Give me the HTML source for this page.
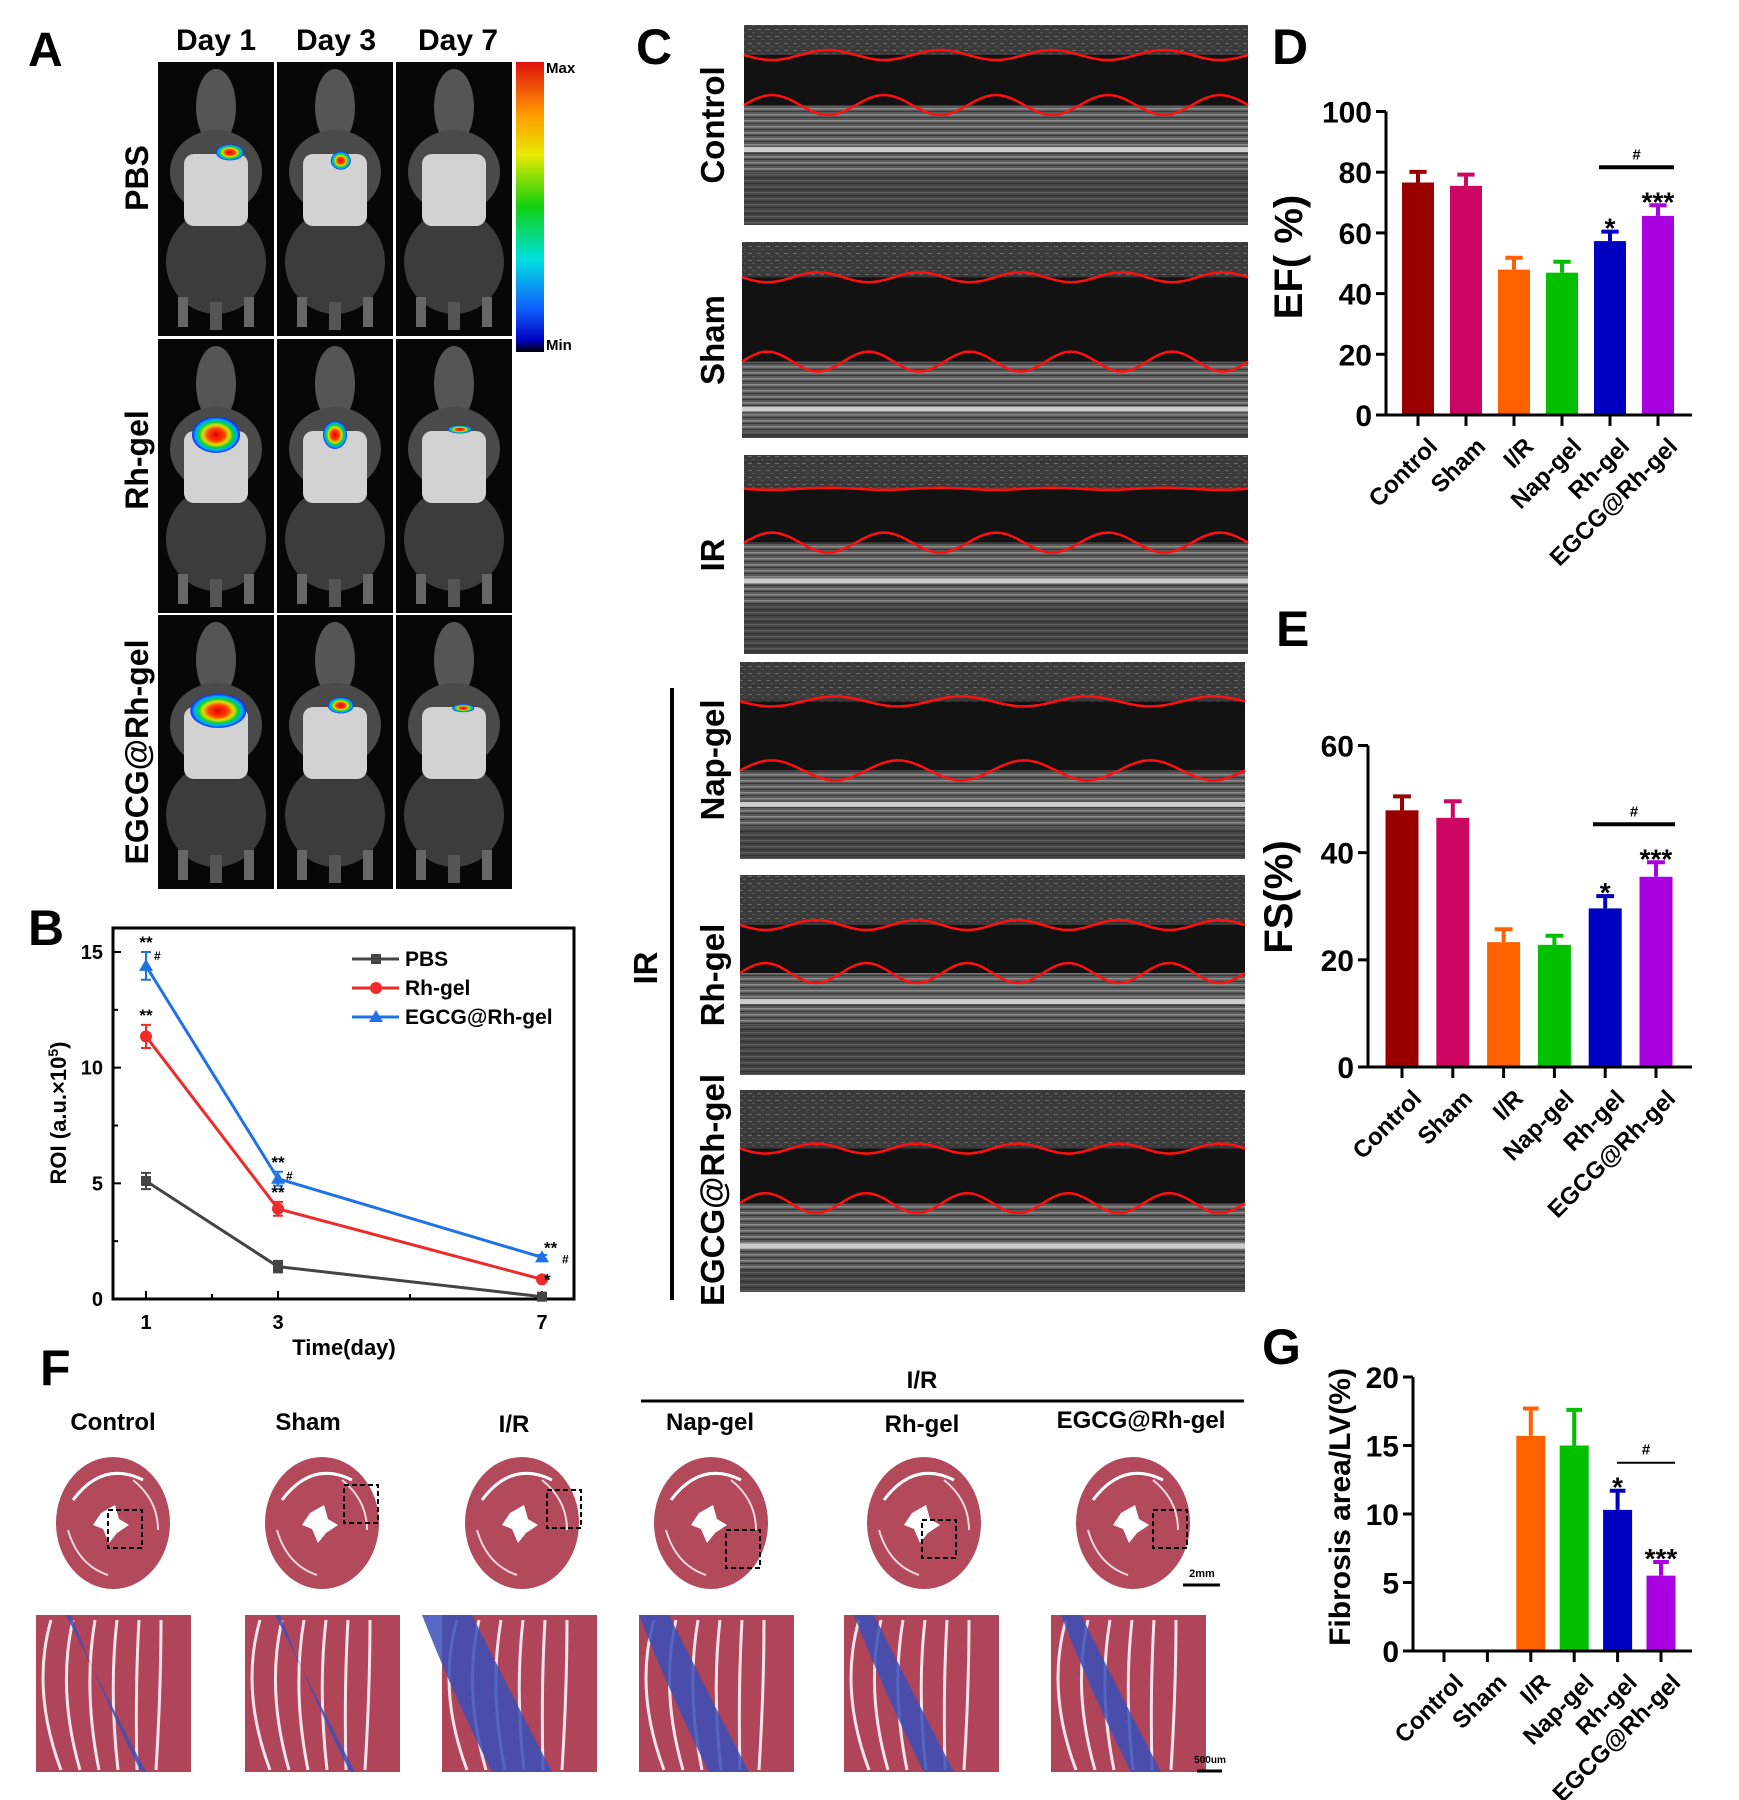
<!DOCTYPE html>
<html><head><meta charset="utf-8">
<style>
html,body{margin:0;padding:0;background:#fff;}
svg{display:block;font-family:"Liberation Sans",Arial,sans-serif;font-weight:bold;}
</style></head>
<body>
<svg id="fig" width="1739" height="1800" viewBox="0 0 1739 1800" xmlns="http://www.w3.org/2000/svg">
<defs>
  <linearGradient id="cbar" x1="0" y1="0" x2="0" y2="1">
    <stop offset="0" stop-color="#e01010"/><stop offset="0.18" stop-color="#ff9a00"/><stop offset="0.32" stop-color="#e8e800"/>
    <stop offset="0.5" stop-color="#10d010"/><stop offset="0.68" stop-color="#00e0e0"/><stop offset="0.85" stop-color="#1060ff"/>
    <stop offset="0.96" stop-color="#0000c0"/><stop offset="1" stop-color="#000"/>
  </linearGradient>
  <radialGradient id="blob">
    <stop offset="0" stop-color="#e00000"/><stop offset="0.35" stop-color="#ff4000"/><stop offset="0.55" stop-color="#e0e000"/>
    <stop offset="0.72" stop-color="#00d040"/><stop offset="0.85" stop-color="#00b0ff"/><stop offset="1" stop-color="#1020ff"/>
  </radialGradient>
  <pattern id="stripes" width="8" height="6" patternUnits="userSpaceOnUse">
    <rect width="8" height="6" fill="#5a5a5a"/>
    <rect y="0" width="8" height="1.5" fill="#8a8a8a"/>
    <rect y="3" width="8" height="1" fill="#3a3a3a"/>
  </pattern>
  <pattern id="noise" width="9" height="7" patternUnits="userSpaceOnUse">
    <rect width="9" height="7" fill="#3a3a3a"/>
    <rect x="1" y="1" width="4" height="1" fill="#6a6a6a"/>
    <rect x="5" y="4" width="3" height="1" fill="#555"/>
  </pattern>
  <g id="mouse">
    <rect x="0" y="0" width="116" height="274" fill="#070707"/>
    <ellipse cx="58" cy="45" rx="20" ry="38" fill="#555"/>
    <ellipse cx="58" cy="110" rx="46" ry="42" fill="#4a4a4a"/>
    <ellipse cx="58" cy="200" rx="50" ry="52" fill="#3c3c3c"/>
    <rect x="26" y="92" width="64" height="72" rx="10" fill="#d2d2d2"/>
    <rect x="20" y="235" width="10" height="30" fill="#666"/>
    <rect x="86" y="235" width="10" height="30" fill="#666"/>
    <rect x="52" y="240" width="12" height="28" fill="#555"/>
  </g>
</defs>

<!-- ===== Panel A ===== -->
<text x="28" y="66" font-size="48">A</text>
<g font-size="30" text-anchor="middle">
  <text x="216" y="50">Day 1</text>
  <text x="336" y="50">Day 3</text>
  <text x="458" y="50">Day 7</text>
</g>
<g font-size="32" text-anchor="middle">
  <text transform="translate(148,178) rotate(-90)">PBS</text>
  <text transform="translate(148,460) rotate(-90)">Rh-gel</text>
  <text transform="translate(148,752) rotate(-90)">EGCG@Rh-gel</text>
</g>
<g id="mice"></g>
<rect x="516" y="62" width="28" height="290" fill="url(#cbar)"/>
<text x="546" y="73" font-size="15">Max</text>
<text x="546" y="350" font-size="15">Min</text>

<!-- ===== Panel B ===== -->
<text x="28" y="945" font-size="50">B</text>
<g id="chartB"></g>

<!-- ===== Panel C ===== -->
<text x="636" y="64" font-size="50">C</text>
<g id="echo"></g>
<g font-size="33" text-anchor="middle">
  <text transform="translate(724,125) rotate(-90)">Control</text>
  <text transform="translate(724,340) rotate(-90)">Sham</text>
  <text transform="translate(724,555) rotate(-90)">IR</text>
  <text transform="translate(724,760) rotate(-90)">Nap-gel</text>
  <text transform="translate(724,975) rotate(-90)">Rh-gel</text>
  <text transform="translate(724,1190) rotate(-90)">EGCG@Rh-gel</text>
  <text transform="translate(657,968) rotate(-90)">IR</text>
</g>
<line x1="672" y1="688" x2="672" y2="1300" stroke="#000" stroke-width="4"/>

<!-- ===== Panels D, E, G ===== -->
<text x="1272" y="64" font-size="50">D</text>
<g id="chartD"></g>
<text x="1276" y="646" font-size="50">E</text>
<g id="chartE"></g>
<text x="1262" y="1364" font-size="50">G</text>
<g id="chartG"></g>

<!-- ===== Panel F ===== -->
<text x="40" y="1385" font-size="50">F</text>
<text x="922" y="1388" font-size="24" text-anchor="middle">I/R</text>
<line x1="641" y1="1401" x2="1244" y2="1401" stroke="#000" stroke-width="3"/>
<g font-size="24" text-anchor="middle">
  <text x="113" y="1430">Control</text>
  <text x="308" y="1430">Sham</text>
  <text x="514" y="1432">I/R</text>
  <text x="710" y="1430">Nap-gel</text>
  <text x="922" y="1432">Rh-gel</text>
  <text x="1141" y="1428">EGCG@Rh-gel</text>
</g>
<g id="histo"></g>
<text x="1202" y="1577" font-size="11" text-anchor="middle">2mm</text>
<line x1="1183" y1="1585" x2="1220" y2="1585" stroke="#000" stroke-width="3"/>
<text x="1210" y="1763" font-size="10" text-anchor="middle">500um</text>
<line x1="1197" y1="1771" x2="1222" y2="1771" stroke="#000" stroke-width="3"/>
</svg>

<script>
// ---------- Chart data ----------
// Panel B
const bDays = [1, 3, 7];
const bSeriesNames = ["PBS", "Rh-gel", "EGCG@Rh-gel"];
const bPBS = [5.1, 1.4, 0.1];
const bPBSErr = [0.35, 0.25, 0.08];
const bRh = [11.35, 3.9, 0.85];
const bRhErr = [0.5, 0.3, 0.08];
const bEGCG = [14.4, 5.2, 1.8];
const bEGCGErr = [0.6, 0.3, 0.1];
const bYTicks = [0, 5, 10, 15];
const bXTicks = [1, 3, 7];
const bRhMarks = ["**", "**", "*"];
const bEGCGMarks = ["**#", "**#", "**#"];

// Panels D, E, G
const groups = ["Control", "Sham", "I/R", "Nap-gel", "Rh-gel", "EGCG@Rh-gel"];
const efValues = [76.6, 75.5, 47.9, 46.9, 57.3, 65.6];
const efErrors = [3.5, 3.7, 3.9, 3.6, 3.1, 3.5];
const efTicks = [0, 20, 40, 60, 80, 100];
const fsValues = [47.9, 46.5, 23.3, 22.8, 29.6, 35.5];
const fsErrors = [2.6, 3.1, 2.4, 1.7, 2.3, 2.7];
const fsTicks = [0, 20, 40, 60];
const fibValues = [0, 0, 15.7, 15.0, 10.3, 5.5];
const fibErrors = [0, 0, 2.0, 2.6, 1.4, 1.0];
const fibTicks = [0, 5, 10, 15, 20];
const barColors = ["#9b0000", "#cc0663", "#ff6000", "#00c000", "#0000c0", "#a800e0"];

const NS = "http://www.w3.org/2000/svg";
function mk(tag, attrs, parent) {
  const e = document.createElementNS(NS, tag);
  for (const k in attrs) e.setAttribute(k, attrs[k]);
  if (parent) parent.appendChild(e);
  return e;
}

// ---------- Panel A mice ----------
(function () {
  const g = document.getElementById('mice');
  const cols = [158, 277, 396], rows = [62, 339, 615];
  const blobs = [
    [[0.62, 0.33, 14, 8], [0.55, 0.36, 10, 9], null],
    [[0.5, 0.35, 24, 18], [0.5, 0.35, 12, 14], [0.55, 0.33, 12, 4]],
    [[0.52, 0.35, 28, 17], [0.55, 0.33, 13, 8], [0.58, 0.34, 11, 4]]
  ];
  for (let r = 0; r < 3; r++) for (let c = 0; c < 3; c++) {
    const u = mk('use', { href: '#mouse', x: cols[c], y: rows[r] }, g);
    
    
    const b = blobs[r][c];
    if (b) {
      const e = mk('ellipse', { cx: cols[c] + b[0] * 116, cy: rows[r] + b[1] * 274, rx: b[2], ry: b[3], fill: 'url(#blob)' }, g);
      
      
    }
  }
})();

// ---------- Panel C echo images ----------
(function () {
  const g = document.getElementById('echo');
  const panels = [
    [744, 25, 504, 200, 0.15, 0.40, 0.62, 4.5],
    [742, 242, 506, 196, 0.18, 0.61, 0.85, 5],
    [744, 455, 504, 199, 0.17, 0.44, 0.63, 4.5],
    [740, 662, 505, 197, 0.20, 0.55, 0.72, 4],
    [740, 875, 505, 200, 0.25, 0.49, 0.63, 5],
    [740, 1090, 505, 202, 0.29, 0.56, 0.77, 5]
  ];
  panels.forEach((p, i) => {
    const [x, y, w, h, t, b, wl, cyc] = p;
    const r = mk('rect', { x, y, width: w, height: h, fill: 'url(#noise)' }, g);
    
    
    mk('rect', { x, y: y + h * t, width: w, height: h * (b - t), fill: '#121212' }, g);
    mk('rect', { x, y: y + h * b, width: w, height: h * (1 - b), fill: 'url(#stripes)' }, g);
    mk('rect', { x, y: y + h * wl - 2, width: w, height: 5, fill: '#d8d8d8', opacity: 0.9 }, g);
    mk('rect', { x, y: y + h * (wl + 0.12), width: w, height: h * (0.88 - wl) > 0 ? h * (0.88 - wl) : 4, fill: '#2a2a2a', opacity: 0.5 }, g);
    let d1 = '', d2 = '';
    const amp1 = i === 2 ? 1 : 5, amp2 = 10;
    for (let s = 0; s <= 100; s++) {
      const xx = x + w * s / 100;
      const ph = 2 * Math.PI * cyc * s / 100;
      d1 += (s ? 'L' : 'M') + xx.toFixed(1) + ',' + (y + h * t + amp1 * Math.sin(ph)).toFixed(1);
      d2 += (s ? 'L' : 'M') + xx.toFixed(1) + ',' + (y + h * b - amp2 * Math.sin(ph)).toFixed(1);
    }
    const l1 = mk('path', { d: d1, fill: 'none', stroke: '#ff1010', 'stroke-width': 2.5 }, g);
    
    
    const l2 = mk('path', { d: d2, fill: 'none', stroke: '#ff1010', 'stroke-width': 2.5 }, g);
    
    
  });
})();

// ---------- Panel F histology ----------
(function () {
  const g = document.getElementById('histo');
  const hx = [113, 322, 522, 711, 924, 1133];
  const cx = [36, 245, 442, 639, 844, 1051];
  const blue = [0.05, 0.05, 0.6, 0.4, 0.3, 0.3];
  const boxes = [[-5, 0], [22, -25], [25, -20], [15, 20], [-2, 10], [20, 0]];
  hx.forEach((x, i) => {
    const e = mk('ellipse', { cx: x, cy: 1523, rx: 57, ry: 66, fill: '#b34a5c' }, g);
    
    
    mk('path', { d: `M${x - 12},${1513} l14,-8 l4,14 l10,6 l-12,8 l-8,10 l-6,-14 l-10,-4 z`, fill: '#fff' }, g);
    mk('path', { d: `M${x - 40},${1500} q30,-40 70,-20`, fill: 'none', stroke: '#fff', 'stroke-width': 3 }, g);
    mk('path', { d: `M${x - 45},${1530} q10,35 40,45`, fill: 'none', stroke: '#f0d8dd', 'stroke-width': 2 }, g);
    mk('path', { d: `M${x + 20},${1480} q25,20 25,50`, fill: 'none', stroke: '#f0d8dd', 'stroke-width': 2 }, g);
    const bx = mk('rect', { x: x + boxes[i][0], y: 1510 + boxes[i][1], width: 34, height: 38, fill: 'none', stroke: '#000', 'stroke-width': 2, 'stroke-dasharray': '5,3' }, g);
    
    
    const c = mk('rect', { x: cx[i], y: 1615, width: 155, height: 157, fill: '#b04458' }, g);
    
    
    for (let k = 0; k < 6; k++) mk('path', { d: `M${cx[i] + 15 + k * 22},1620 q${-20 + k * 4},70 ${10 - k * 3},150`, fill: 'none', stroke: '#f2e6ea', 'stroke-width': 3 }, g);
    mk('path', { d: `M${cx[i] + 30},1615 q40,80 80,157 l${-100 * blue[i]},0 q-40,-80 -70,-157 z`, fill: '#3a4fb8', opacity: 0.85 }, g);
  });
})();

// ---------- Bar chart ----------
function barChart(id, cfg, values, errors, ticks) {
  const g = document.getElementById(id);
  const ymax = ticks[ticks.length - 1];
  const ys = v => cfg.y0 - (v / ymax) * (cfg.y0 - cfg.yTop);
  const xs = i => cfg.x1 + cfg.step * i;
  values.forEach((v, i) => {
    if (v <= 0) return;
    const r = mk('rect', { x: xs(i) - cfg.bw / 2, y: ys(v), width: cfg.bw, height: cfg.y0 - ys(v), fill: barColors[i] }, g);
    
    
    const e = mk('path', { d: `M${xs(i)},${ys(v)}V${ys(v + errors[i])}M${xs(i) - cfg.bw * 0.27},${ys(v + errors[i])}H${xs(i) + cfg.bw * 0.27}`, stroke: barColors[i], 'stroke-width': 4, fill: 'none' }, g);
    
    
  });
  const ax = mk('path', { d: `M${cfg.ax},${ys(ymax)}V${cfg.y0}H${cfg.xEnd}`, stroke: '#000', 'stroke-width': 3, fill: 'none' }, g);
  
  
  ticks.forEach(t => {
    mk('line', { x1: cfg.ax - 10, x2: cfg.ax, y1: ys(t), y2: ys(t), stroke: '#000', 'stroke-width': 3 }, g);
    const tl = mk('text', { x: cfg.ax - 14, y: ys(t) + 11, 'font-size': cfg.tf, 'text-anchor': 'end' }, g);
    tl.textContent = t;
    
    
  });
  groups.forEach((name, i) => {
    mk('line', { x1: xs(i), x2: xs(i), y1: cfg.y0, y2: cfg.y0 + 11, stroke: '#000', 'stroke-width': 3 }, g);
    const tl = mk('text', { 'font-size': 24, 'text-anchor': 'end', 'dominant-baseline': 'hanging', transform: `translate(${xs(i) + 9},${cfg.y0 + 21}) rotate(-45)` }, g);
    tl.textContent = name;
    
    
  });
  const yt = mk('text', { 'font-size': cfg.lf, 'text-anchor': 'middle', transform: `translate(${cfg.lx},${cfg.ly}) rotate(-90)` }, g);
  yt.textContent = cfg.label;
  
  
  // significance
  const rhTop = ys(values[4] + errors[4]), egTop = ys(values[5] + errors[5]);
  const s1 = mk('text', { x: xs(4), y: rhTop + 6, 'font-size': 28, 'text-anchor': 'middle' }, g);
  s1.textContent = '*';
  
  
  const s2 = mk('text', { x: xs(5), y: egTop + 6, 'font-size': 28, 'text-anchor': 'middle' }, g);
  s2.textContent = '***';
  
  
  const ly = Math.min(rhTop, egTop) - cfg.lineGap;
  const sl = mk('line', { x1: cfg.lineX1, x2: cfg.lineX2, y1: ly, y2: ly, stroke: '#000', 'stroke-width': cfg.lineW }, g);
  
  
  const h = mk('text', { x: (cfg.lineX1 + cfg.lineX2) / 2, y: ly - 8, 'font-size': 15, 'text-anchor': 'middle' }, g);
  h.textContent = '#';
  
  
}
barChart('chartD', { ax: 1386, y0: 415, yTop: 111.5, x1: 1418, step: 48, bw: 32, xEnd: 1692, tf: 30, lf: 40, lx: 1302, ly: 257, label: 'EF( %)', lineX1: 1599, lineX2: 1674, lineGap: 38, lineW: 4 }, efValues, efErrors, efTicks);
barChart('chartE', { ax: 1368, y0: 1067, yTop: 745.5, x1: 1402, step: 50.8, bw: 33, xEnd: 1692, tf: 30, lf: 40, lx: 1292, ly: 897, label: 'FS(%)', lineX1: 1593, lineX2: 1675, lineGap: 38, lineW: 4 }, fsValues, fsErrors, fsTicks);
barChart('chartG', { ax: 1413, y0: 1651, yTop: 1377, x1: 1444, step: 43.4, bw: 29, xEnd: 1692, tf: 30, lf: 30, lx: 1350, ly: 1507, label: 'Fibrosis area/LV(%)', lineX1: 1617, lineX2: 1675, lineGap: 28, lineW: 2 }, fibValues, fibErrors, fibTicks);

// ---------- Panel B line chart ----------
(function () {
  const g = document.getElementById('chartB');
  const L = 113, R = 574, T = 928, B = 1299;
  const xs = d => 146 + (d - 1) * 66;
  const ys = v => 1299 - v * (1299 - 952) / 15;
  const fr = mk('rect', { x: L, y: T, width: R - L, height: B - T, fill: 'none', stroke: '#000', 'stroke-width': 3 }, g);
  
  
  bYTicks.forEach(t => {
    mk('line', { x1: L, x2: L + 8, y1: ys(t), y2: ys(t), stroke: '#000', 'stroke-width': 2 }, g);
    const tl = mk('text', { x: L - 10, y: ys(t) + 7, 'font-size': 20, 'text-anchor': 'end' }, g);
    tl.textContent = t;
    
    
  });
  [2.5, 7.5, 12.5].forEach(t => mk('line', { x1: L, x2: L + 5, y1: ys(t), y2: ys(t), stroke: '#000', 'stroke-width': 2 }, g));
  bXTicks.forEach(d => {
    mk('line', { x1: xs(d), x2: xs(d), y1: B, y2: B - 8, stroke: '#000', 'stroke-width': 2 }, g);
    const tl = mk('text', { x: xs(d), y: B + 30, 'font-size': 20, 'text-anchor': 'middle' }, g);
    tl.textContent = d;
    
    
  });
  [2, 5].forEach(d => mk('line', { x1: xs(d), x2: xs(d), y1: B, y2: B - 5, stroke: '#000', 'stroke-width': 2 }, g));
  const xt = mk('text', { x: 344, y: 1355, 'font-size': 22, 'text-anchor': 'middle' }, g);
  xt.textContent = 'Time(day)';
  
  
  const yt = mk('text', { 'font-size': 22, 'text-anchor': 'middle', transform: 'translate(66,1113) rotate(-90)' }, g);
  yt.innerHTML = 'ROI (a.u.×10<tspan dy="-8" font-size="14">5</tspan><tspan dy="8">)</tspan>';
  
  

  const series = [[bPBS, bPBSErr, '#444444', 'square'], [bRh, bRhErr, '#ee2a2a', 'circle'], [bEGCG, bEGCGErr, '#1f72e6', 'triangle']];
  function marker(shape, x, y, c) {
    if (shape === 'square') return mk('rect', { x: x - 5, y: y - 5, width: 10, height: 10, fill: c }, g);
    if (shape === 'circle') return mk('circle', { cx: x, cy: y, r: 6, fill: c }, g);
    return mk('path', { d: `M${x},${y - 7}L${x + 7},${y + 5}L${x - 7},${y + 5}Z`, fill: c }, g);
  }
  series.forEach((s, si) => {
    const [vals, errs, c, shape] = s;
    const ln = mk('polyline', { points: bDays.map((d, i) => xs(d) + ',' + ys(vals[i])).join(' '), fill: 'none', stroke: c, 'stroke-width': 3 }, g);
    
    
    bDays.forEach((d, i) => {
      const x = xs(d), y1 = ys(vals[i] - errs[i]), y2 = ys(vals[i] + errs[i]);
      mk('path', { d: `M${x},${y1}V${y2}M${x - 5},${y1}H${x + 5}M${x - 5},${y2}H${x + 5}`, stroke: c, 'stroke-width': 2, fill: 'none' }, g);
      const m = marker(shape, x, ys(vals[i]), c);
      
      
    });
  });
  [[bRh, bRhErr, bRhMarks], [bEGCG, bEGCGErr, bEGCGMarks]].forEach(s => {
    bDays.forEach((d, i) => {
      const mkTxt = s[2][i];
      const stars = mkTxt.replace('#', '');
      const t = mk('text', { x: xs(d) + (i === 2 ? 2 : 0), y: ys(s[0][i] + s[1][i]) - 4, 'font-size': 17, 'text-anchor': i === 2 ? 'start' : 'middle' }, g);
      if (i === 2) t.setAttribute('y', ys(s[0][i]) + (stars.length === 1 ? 6 : -4));
      t.textContent = stars;
      
      
      if (mkTxt.includes('#')) {
        const h = mk('text', { x: xs(d) + (i === 2 ? 20 : 8), y: ys(s[0][i] + s[1][i]) + 8, 'font-size': 12 }, g);
        if (i === 2) h.setAttribute('y', ys(s[0][i]) + 6);
        h.textContent = '#';
        
        
      }
    });
  });
  // legend
  series.forEach((s, si) => {
    const y = 959 + si * 29;
    mk('line', { x1: 352, x2: 399, y1: y, y2: y, stroke: s[2], 'stroke-width': 3 }, g);
    marker(s[3], 376, y, s[2]);
    const t = mk('text', { x: 405, y: y + 7, 'font-size': 21 }, g);
    t.textContent = bSeriesNames[si];
    
    
  });
})();
</script>
</body></html>
